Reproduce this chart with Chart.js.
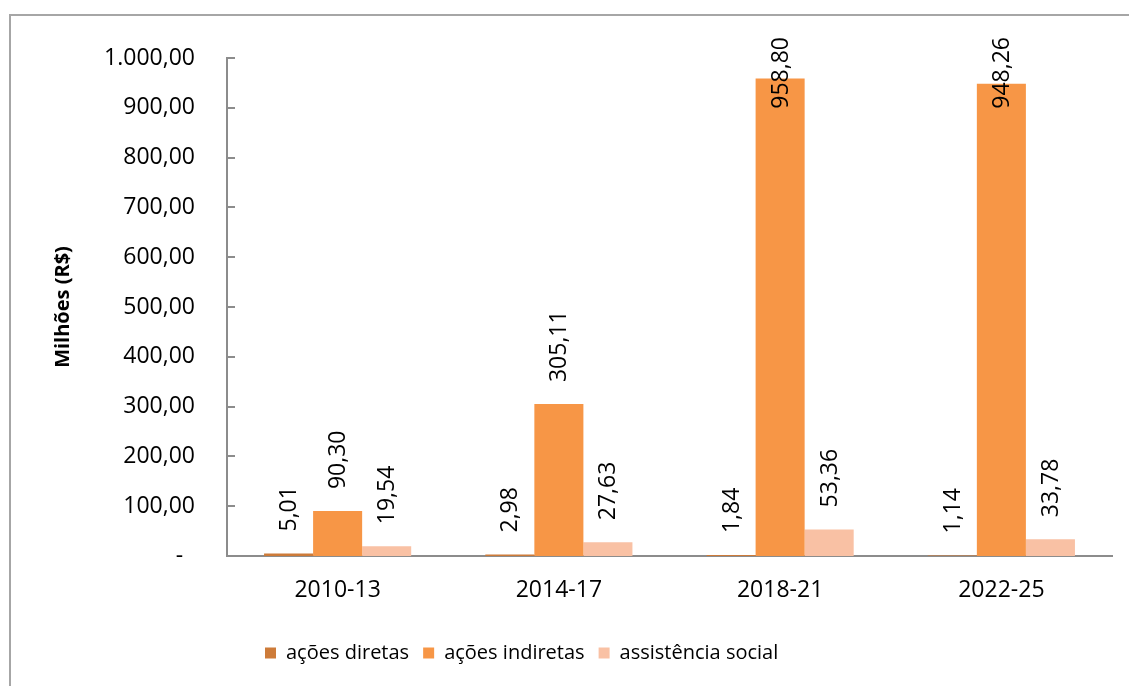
<!DOCTYPE html>
<html lang="pt-BR">
<head>
<meta charset="utf-8">
<title>Gastos por período</title>
<script src="https://cdn.jsdelivr.net/npm/chart.js@4.4.1/dist/chart.umd.min.js"></script>
<style>
  html, body { margin: 0; padding: 0; background: #fff; }
  #wrap { position: relative; width: 1129px; height: 686px; overflow: hidden; }
  #frame { position: absolute; left: 9px; top: 14px; width: 1300px; height: 900px;
           border-left: 2px solid #a6a6a6; border-top: 2px solid #a6a6a6; }
  canvas { position: absolute; left: 0; top: 0; }
</style>
</head>
<body>
<div id="wrap">
  <div id="frame"></div>
  <canvas id="gastosChart" width="1129" height="686"></canvas>
</div>
<script>
// periods and values (millions of R$)
const periodos = ['2010-13', '2014-17', '2018-21', '2022-25'];
const acoesDiretas = [5.01, 2.98, 1.84, 1.14];
const acoesIndiretas = [90.30, 305.11, 958.80, 948.26];
const assistenciaSocial = [19.54, 27.63, 53.36, 33.78];

const nomesSeries = ['ações diretas', 'ações indiretas', 'assistência social'];
const coresSeries = ['#CD7B39', '#F79646', '#F9C1A4'];

const eixoMin = 0;
const eixoMax = 1000;
const eixoPasso = 100;

const fonte = '"Open Sans", "Liberation Sans", sans-serif';
const corEixo = '#8c8c8c';

// 1234.5 -> "1.234,50"
function formatBR(v) {
  const parts = v.toFixed(2).split('.');
  parts[0] = parts[0].replace(/\B(?=(\d{3})+(?!\d))/g, '.');
  return parts.join(',');
}

// rotated value labels above each bar, pushed down when they would leave the top
const valoresNasBarras = {
  id: 'valoresNasBarras',
  afterDatasetsDraw(chart) {
    const ctx = chart.ctx;
    ctx.save();
    ctx.font = '23px ' + fonte;
    ctx.fillStyle = '#000';
    ctx.textAlign = 'left';
    ctx.textBaseline = 'middle';
    chart.data.datasets.forEach((ds, i) => {
      chart.getDatasetMeta(i).data.forEach((bar, j) => {
        const txt = formatBR(ds.data[j]);
        const w = ctx.measureText(txt).width;
        let base = bar.y - 22;
        if (base - w < 37) base = 37 + w;
        ctx.save();
        ctx.translate(bar.x + 1, base);
        ctx.rotate(-Math.PI / 2);
        ctx.fillText(txt, 0, 0);
        ctx.restore();
      });
    });
    ctx.restore();
  }
};

// small tick marks pointing into the plot from the y axis
const marcasEixoY = {
  id: 'marcasEixoY',
  afterDraw(chart) {
    const y = chart.scales.y;
    const ctx = chart.ctx;
    ctx.save();
    ctx.strokeStyle = corEixo;
    ctx.lineWidth = 2;
    y.ticks.forEach(t => {
      if (t.value === eixoMin) return;
      const py = Math.round(y.getPixelForValue(t.value));
      ctx.beginPath();
      ctx.moveTo(y.right, py);
      ctx.lineTo(y.right + 8, py);
      ctx.stroke();
    });
    ctx.restore();
  }
};

// place the legend row under the plot
const posicaoLegenda = {
  id: 'posicaoLegenda',
  afterLayout(chart) {
    const lg = chart.legend;
    const w = lg.right - lg.left;
    const h = lg.bottom - lg.top;
    lg.left = 251;
    lg.right = lg.left + w;
    lg.top = 629;
    lg.bottom = lg.top + h;
  }
};

const ctx = document.getElementById('gastosChart').getContext('2d');
const gastosChart = new Chart(ctx, {
  type: 'bar',
  data: {
    labels: periodos,
    datasets: [
      { label: nomesSeries[0], data: acoesDiretas, backgroundColor: coresSeries[0] },
      { label: nomesSeries[1], data: acoesIndiretas, backgroundColor: coresSeries[1] },
      { label: nomesSeries[2], data: assistenciaSocial, backgroundColor: coresSeries[2] }
    ]
  },
  options: {
    responsive: false,
    animation: false,
    devicePixelRatio: 1,
    layout: { padding: { top: 58, right: 17, left: 0, bottom: 0 } },
    datasets: {
      bar: { categoryPercentage: 0.665, barPercentage: 1, borderWidth: 0 }
    },
    plugins: {
      legend: {
        position: 'bottom',
        align: 'start',
        labels: {
          boxWidth: 11,
          boxHeight: 11,
          padding: 14,
          color: '#000',
          font: { family: fonte, size: 20 }
        }
      },
      tooltip: { enabled: false }
    },
    scales: {
      x: {
        grid: { display: false, drawTicks: false },
        border: { display: true, color: corEixo, width: 2 },
        ticks: { color: '#000', padding: 21, font: { family: fonte, size: 23 } },
        afterFit(scale) { scale.height = 86; }
      },
      y: {
        min: eixoMin,
        max: eixoMax,
        grid: { display: false, drawTicks: false },
        border: { display: true, color: corEixo, width: 2 },
        ticks: {
          stepSize: eixoPasso,
          color: '#000',
          padding: 32,
          font: { family: fonte, size: 23 },
          callback: v => v === 0 ? '-  ' : formatBR(v)
        },
        title: {
          display: true,
          text: 'Milhões (R$)',
          color: '#000',
          padding: { top: 51, bottom: 0 },
          font: { family: fonte, size: 20, weight: 'bold' }
        },
        afterFit(scale) { scale.width = 227; }
      }
    }
  },
  plugins: [valoresNasBarras, marcasEixoY, posicaoLegenda]
});
</script>
</body>
</html>
